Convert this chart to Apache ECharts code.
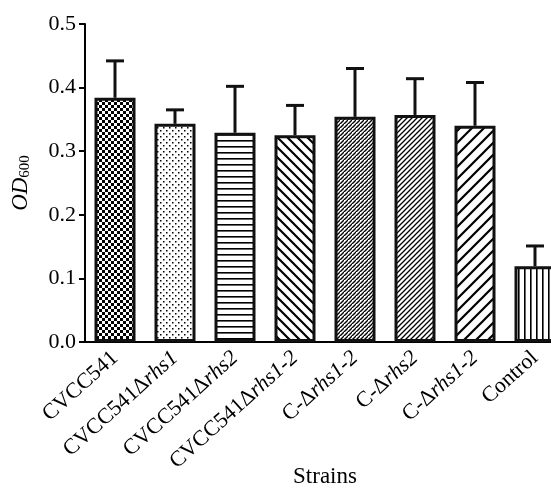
<!DOCTYPE html>
<html>
<head>
<meta charset="utf-8">
<script src="https://cdn.jsdelivr.net/npm/echarts@6/dist/echarts.min.js"></script>
<style>html,body{margin:0;padding:0;background:#fff;}#c{width:551px;height:489px;}</style>
</head>
<body>
<div id="c"></div>
<script>
const categories = ['CVCC541', 'CVCC541Δrhs1', 'CVCC541Δrhs2', 'CVCC541Δrhs1-2', 'C-Δrhs1-2', 'C-Δrhs2', 'C-Δrhs1-2 ', 'Control'];
const meanOD = [0.384, 0.343, 0.329, 0.325, 0.354, 0.357, 0.340, 0.119];
const sdOD = [0.058, 0.022, 0.073, 0.047, 0.076, 0.057, 0.068, 0.032];
const patternTypes = ['checker', 'dots', 'hlines', 'backslash', 'densediag', 'finediag', 'widediag', 'vlines'];
const yTicks = [0.0, 0.1, 0.2, 0.3, 0.4, 0.5];

function makePattern(type) {
  const c = document.createElement('canvas');
  let p = 6;
  if (type === 'backslash') p = 10;
  if (type === 'densediag') p = 4;
  if (type === 'finediag') p = 5;
  if (type === 'widediag') p = 12;
  if (type === 'checker') p = 6;
  if (type === 'dots') p = 6;
  c.width = p; c.height = p;
  const g = c.getContext('2d');
  g.fillStyle = '#fff'; g.fillRect(0, 0, p, p);
  g.fillStyle = '#000'; g.strokeStyle = '#000';
  if (type === 'checker') {
    g.fillRect(0, 0, 3, 3); g.fillRect(3, 3, 3, 3);
  } else if (type === 'dots') {
    g.fillRect(1, 1, 1.5, 1.5); g.fillRect(4, 4, 1.5, 1.5);
  } else if (type === 'hlines') {
    g.fillRect(0, 2, p, 1.6);
  } else if (type === 'vlines') {
    g.fillRect(2, 0, 1.6, p);
  } else if (type === 'backslash') {
    g.lineWidth = 2.2;
    g.beginPath();
    g.moveTo(-1, -1); g.lineTo(p + 1, p + 1);
    g.moveTo(p - 1, -1); g.lineTo(p + 1, 1);
    g.moveTo(-1, p - 1); g.lineTo(1, p + 1);
    g.stroke();
  } else {
    g.lineWidth = type === 'widediag' ? 2.2 : (type === 'densediag' ? 1.4 : 1.3);
    g.beginPath();
    g.moveTo(-1, p + 1); g.lineTo(p + 1, -1);
    g.moveTo(-1, 1); g.lineTo(1, -1);
    g.moveTo(p - 1, p + 1); g.lineTo(p + 1, p - 1);
    g.stroke();
    if (type === 'densediag') {
      g.fillStyle = '#fff';
      g.fillRect(0, 0, 1, 1);
    }
  }
  return { image: c, repeat: 'repeat' };
}

const barData = meanOD.map((v, i) => ({
  value: v,
  itemStyle: { color: makePattern(patternTypes[i]) }
}));
const errData = meanOD.map((v, i) => [i, v, v + sdOD[i]]);

function labelFmt(v) {
  const k = v.indexOf('Δ');
  if (k < 0) return '{n|' + v.trim() + '}';
  return '{n|' + v.slice(0, k + 1) + '}{i|' + v.slice(k + 1).trim() + '}';
}

const serif = 'Liberation Serif';
const chart = echarts.init(document.getElementById('c'), null, { renderer: 'canvas' });
chart.setOption({
  animation: false,
  backgroundColor: '#fff',
  grid: { left: 85, top: 24, width: 480, bottom: 147, containLabel: false, outerBoundsMode: 'none' },
  xAxis: {
    type: 'category',
    data: categories,
    axisLine: { lineStyle: { color: '#000', width: 2 } },
    axisTick: { show: false },
    axisLabel: {
      rotate: 42, margin: 13, interval: 0,
      formatter: labelFmt,
      rich: {
        n: { fontFamily: serif, fontSize: 22, color: '#000' },
        i: { fontFamily: serif, fontSize: 22, fontStyle: 'italic', color: '#000' }
      }
    },
    name: 'Strains', nameLocation: 'middle', nameGap: 123, nameMoveOverlap: false,
    nameTextStyle: { fontFamily: serif, fontSize: 23, color: '#000' }
  },
  yAxis: {
    type: 'value', min: 0, max: 0.5, interval: 0.1,
    axisLine: { show: true, lineStyle: { color: '#000', width: 2 } },
    axisTick: { show: true, length: 6, lineStyle: { color: '#000', width: 2 } },
    splitLine: { show: false },
    axisLabel: {
      margin: 9, fontFamily: serif, fontSize: 22, color: '#000',
      formatter: v => yTicks.reduce((a, t) => Math.abs(t - v) < 1e-9 ? t.toFixed(1) : a, v.toFixed(1))
    },
    name: '{i|OD}{s|600}', nameLocation: 'middle', nameGap: 52, nameRotate: 90, nameMoveOverlap: false,
    nameTextStyle: {
      rich: {
        i: { fontFamily: serif, fontSize: 23, fontStyle: 'italic', color: '#000' },
        s: { fontFamily: serif, fontSize: 15, color: '#000', padding: [10, 0, 0, 0] }
      }
    }
  },
  series: [
    {
      type: 'bar', data: barData, barWidth: 41,
      itemStyle: { borderColor: '#111', borderWidth: 3 },
      z: 2
    },
    {
      type: 'custom', data: errData, z: 3,
      renderItem: function (params, api) {
        const x = api.value(0);
        const base = api.coord([x, api.value(1)]);
        const top = api.coord([x, api.value(2)]);
        const hw = 9;
        return {
          type: 'group',
          children: [
            { type: 'line', shape: { x1: base[0], y1: base[1], x2: top[0], y2: top[1] }, style: { stroke: '#111', lineWidth: 3 } },
            { type: 'line', shape: { x1: top[0] - hw, y1: top[1], x2: top[0] + hw, y2: top[1] }, style: { stroke: '#111', lineWidth: 3 } }
          ]
        };
      }
    }
  ]
});
</script>
</body>
</html>
